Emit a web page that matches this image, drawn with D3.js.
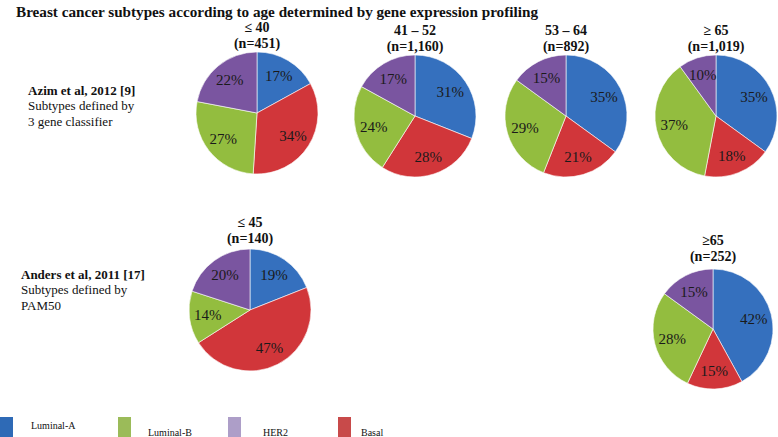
<!DOCTYPE html>
<html><head><meta charset="utf-8">
<script src="https://cdn.jsdelivr.net/npm/d3@7"></script>
<style>body{margin:0;background:#fff}svg{display:block}</style>
</head><body>
<svg id="c" width="778" height="437" font-family="'Liberation Serif', 'Times New Roman', Times, serif"></svg>
<script>
// Subtypes in clockwise order starting at 12 o'clock
const subtypes = ["Luminal-A", "Basal", "Luminal-B", "HER2"];
const legendOrder = ["Luminal-A", "Luminal-B", "HER2", "Basal"];
const pieColors = {"Luminal-A": "#3570be", "Basal": "#d1363a", "Luminal-B": "#93bd3f", "HER2": "#7a55a0"};
const legendColors = {"Luminal-A": "#2e6ab6", "Luminal-B": "#9bbb59", "HER2": "#ad9ec8", "Basal": "#c84a4a"};

const groupLabels = ["≤ 40", "41 – 52", "53 – 64", "≥ 65", "≤ 45", "≥65"];
const groupN = ["(n=451)", "(n=1,160)", "(n=892)", "(n=1,019)", "(n=140)", "(n=252)"];
// values: Luminal-A, Basal, Luminal-B, HER2
const pieValues = [
  [17, 34, 27, 22],
  [31, 28, 24, 17],
  [35, 21, 29, 15],
  [35, 18, 37, 10],
  [19, 47, 14, 20],
  [42, 15, 28, 15]
];
const studyLines = [
  ["Azim et al, 2012 [9]", "Subtypes defined by", "3 gene classifier"],
  ["Anders et al, 2011 [17]", "Subtypes defined by", "PAM50"]
];
const title = "Breast cancer subtypes according to age determined by gene expression profiling";

// layout
const centers = [[257,113],[415,116],[566,116],[716,116],[250,310],[713,329]];
const radii = [61, 61, 61, 61, 61, 60];
const headerY = [27, 30, 30, 30, 222, 240];

const svg = d3.select("#c");
svg.append("text").attr("x", 16).attr("y", 11).attr("dominant-baseline","central")
  .attr("font-size", 15.2).attr("font-weight","bold").attr("fill","#111").text(title);

const pie = d3.pie().sort(null).value(d => d.v);

pieValues.forEach((vals, i) => {
  const [cx, cy] = centers[i];
  const R = radii[i];
  const arc = d3.arc().innerRadius(0).outerRadius(R);
  const lab = d3.arc().innerRadius(R*0.7).outerRadius(R*0.7);
  const g = svg.append("g").attr("transform", `translate(${cx},${cy})`);
  const data = pie(vals.map((v, k) => ({k: subtypes[k], v})));
  g.selectAll("path").data(data).join("path")
    .attr("d", arc).attr("fill", d => pieColors[d.data.k])
    .attr("stroke", "#fff").attr("stroke-width", 0.6);
  g.selectAll("text.p").data(data).join("text").attr("class","p")
    .attr("transform", d => `translate(${lab.centroid(d)})`)
    .attr("text-anchor","middle").attr("dominant-baseline","central")
    .attr("font-size", 15).attr("fill","#1a1a1a")
    .text(d => d.data.v + "%");
  const hy = headerY[i];
  svg.append("text").attr("x", cx).attr("y", hy).attr("text-anchor","middle")
    .attr("dominant-baseline","central").attr("font-size",14).attr("font-weight","bold")
    .attr("fill","#111").text(groupLabels[i]);
  svg.append("text").attr("x", cx).attr("y", hy + 16).attr("text-anchor","middle")
    .attr("dominant-baseline","central").attr("font-size",14).attr("font-weight","bold")
    .attr("fill","#111").text(groupN[i]);
});

const studyPos = [[28, 90], [21, 274]];
studyLines.forEach((lines, i) => {
  lines.forEach((t, j) => {
    svg.append("text").attr("x", studyPos[i][0]).attr("y", studyPos[i][1] + j*15.5)
      .attr("dominant-baseline","central").attr("font-size", 13)
      .attr("font-weight", j === 0 ? "bold" : "normal").attr("fill","#111").text(t);
  });
});

// legend
const lx = d3.scaleOrdinal().domain(legendOrder).range([0, 118, 228, 338]);
const ltx = {"Luminal-A": [31, 425], "Luminal-B": [148, 432], "HER2": [263, 432], "Basal": [361, 432]};
legendOrder.forEach(k => {
  svg.append("rect").attr("x", lx(k)).attr("y", 417).attr("width", 13).attr("height", 20)
    .attr("fill", legendColors[k]);
  svg.append("text").attr("x", ltx[k][0]).attr("y", ltx[k][1]).attr("dominant-baseline","central")
    .attr("font-size", 10).attr("fill","#111").text(k);
});
</script>
</body></html>
